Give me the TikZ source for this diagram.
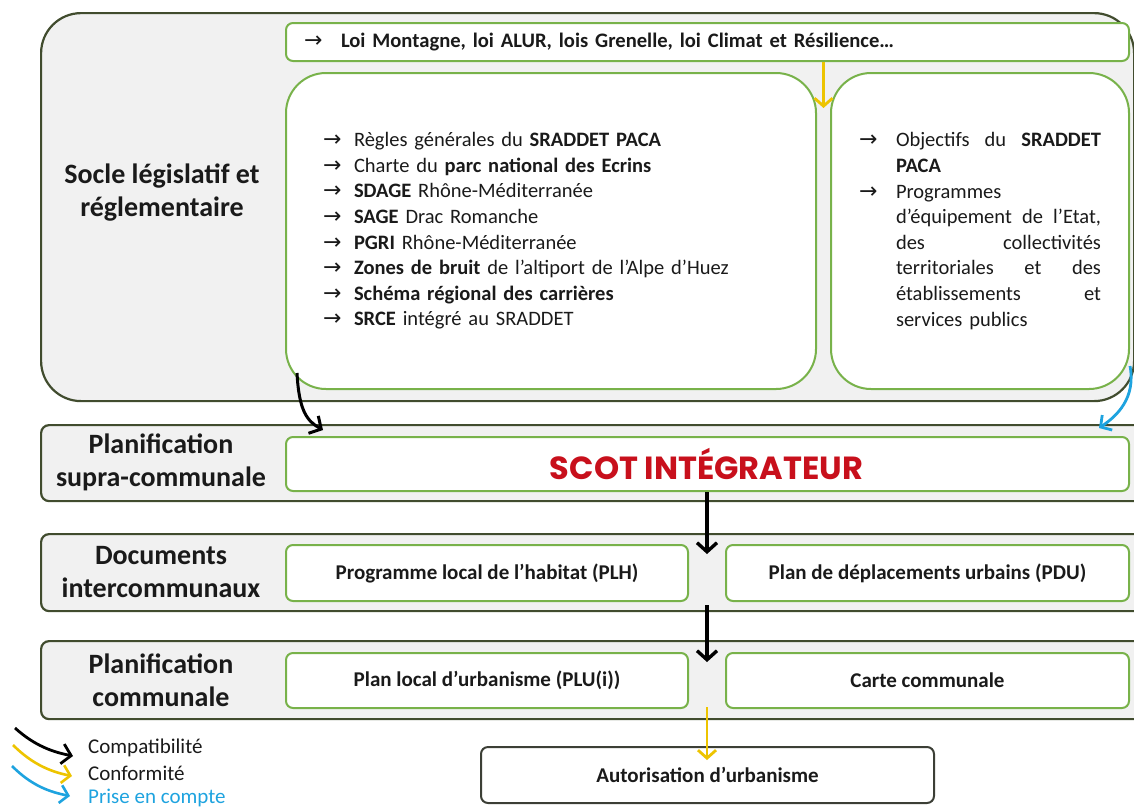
\documentclass[tikz,border=0pt]{standalone}
\usepackage{fontspec}
\setmainfont{Carlito}
\newfontfamily\scotfont{Poppins}
\newfontfamily\arrfont{DejaVu Sans}
\usetikzlibrary{arrows.meta,calc,positioning}
\definecolor{olive}{HTML}{414C2E}
\definecolor{leaf}{HTML}{78B24A}
\definecolor{panelgray}{HTML}{F1F1F1}
\definecolor{scotred}{HTML}{C8101C}
\definecolor{gold}{HTML}{EDC400}
\definecolor{sky}{HTML}{1EA3DF}
\definecolor{ink}{HTML}{1A1A1A}
\definecolor{frame}{HTML}{3C3F36}
\newcommand\arr[1][31pt]{\makebox[#1][l]{\arrfont\mdseries\fontsize{22}{20}\selectfont →}}
\newcommand\jline[1]{{\spaceskip=0pt\xspaceskip=0pt\makebox[205pt][s]{#1}}}
\tikzset{
  panel/.style={draw=olive,line width=2.2pt,fill=panelgray,rounded corners=8pt,
                anchor=north west,inner sep=0pt},
  inbox/.style={draw=leaf,line width=2pt,fill=white,rounded corners=7pt,
                anchor=north west,inner sep=0pt,text=ink},
  bigbox/.style={inbox,rounded corners=40pt,font={\fontsize{20.5}{25.6}\selectfont},align=left},
  rowlabel/.style={align=center,text=ink,font={\fontsize{28}{33}\selectfont\bfseries}},
  doc/.style={font={\fontsize{21}{24}\selectfont\bfseries}},
  legend/.style={anchor=west,inner sep=0pt,font={\fontsize{21}{24}\selectfont},text=ink},
  compat/.style={-{Straight Barb[length=9pt,width=20pt]},line width=3.4pt,draw=black},
  conform/.style={-{Straight Barb[length=8pt,width=18pt]},line width=2.8pt,draw=gold},
  prise/.style={-{Straight Barb[length=8pt,width=18pt]},line width=2.8pt,draw=sky}
}
\begin{document}
\begin{tikzpicture}[x=1pt,y=-1pt]
  \clip (0,0) rectangle (1134,807);
  % bandeaux
  \node[panel,rounded corners=40pt,minimum width=1093,minimum height=388] (socle) at (40,12) {};
  \node[panel,minimum width=1110,minimum height=76] (supra) at (40,424) {};
  \node[panel,minimum width=1110,minimum height=77] (inter) at (40,533) {};
  \node[panel,minimum width=1110,minimum height=78] (commun) at (40,640) {};
  \node[rowlabel] (lsocle) at (162,193) {Socle législatif et\\réglementaire};
  \node[rowlabel] (lsupra) at (161,462) {Planification\\supra-communale};
  \node[rowlabel] (linter) at (161,572) {Documents\\intercommunaux};
  \node[rowlabel] (lcommun) at (161,680) {Planification\\communale};

  % socle
  \node[inbox,minimum width=843,minimum height=38,text width=807,inner xsep=18pt,align=left,
        font={\fontsize{20.6}{22}\selectfont\bfseries}] (lois) at (285,22)
    {\arr[37pt]Loi Montagne, loi ALUR, lois Grenelle, loi Climat et Résilience…};
  \node[bigbox,minimum width=530,minimum height=316,text width=456,inner xsep=37pt] (lbox) at (285,72)
    {\arr Règles générales du \textbf{SRADDET PACA}\\
     \arr Charte du \textbf{parc national des Ecrins}\\
     \arr\textbf{SDAGE} Rhône-Méditerranée\\
     \arr\textbf{SAGE} Drac Romanche\\
     \arr\textbf{PGRI} Rhône-Méditerranée\\
     \arr\textbf{Zones de bruit} de l’altiport de l’Alpe d’Huez\\
     \arr\textbf{Schéma régional des carrières}\\
     \arr\textbf{SRCE} intégré au SRADDET};
  \node[bigbox,minimum width=298,minimum height=316,text width=242,inner xsep=28pt] (rbox) at (830,72)
    {\arr[37pt]\jline{Objectifs du \textbf{SRADDET}}\\
     \hspace*{37pt}\textbf{PACA}\\
     \arr[37pt]Programmes\\
     \hspace*{37pt}\jline{d’équipement de l’Etat,}\\
     \hspace*{37pt}\jline{des collectivités}\\
     \hspace*{37pt}\jline{territoriales et des}\\
     \hspace*{37pt}\jline{établissements et}\\
     \hspace*{37pt}services publics};

  % documents
  \node[inbox,minimum width=843,minimum height=54] (scot) at (285,436)
    {\hspace*{-2pt}{\scotfont\bfseries\fontsize{32}{34}\selectfont\color{scotred}SCOT INTÉGRATEUR}};
  \node[inbox,doc,minimum width=402,minimum height=56] (plh) at (285,544) {Programme local de l’habitat (PLH)};
  \node[inbox,doc,minimum width=403,minimum height=56] (pdu) at (725,544) {Plan de déplacements urbains (PDU)};
  \node[inbox,doc,minimum width=402,minimum height=55] (plu) at (285,652) {Plan local d’urbanisme (PLU(i))};
  \node[inbox,doc,minimum width=403,minimum height=55] (carte) at (725,652) {Carte communale};
  \node[inbox,doc,draw=frame,minimum width=453,minimum height=56] (aut) at (480,746) {Autorisation d’urbanisme};

  % liens
  \coordinate (gap) at ($(lbox.north east)!.5!(rbox.north west)$);
  \coordinate (mid3) at ($(plh.east)!.5!(pdu.west)$);
  \coordinate (mid4) at ($(plu.east)!.5!(carte.west)$);
  \draw[conform] (lois.south -| gap) -- ($(gap)+(0,36)$);
  \draw[compat,line width=3pt] ($(lbox.south west)+(12,-17)$) .. controls +(2,38) and +(-16,-9) .. ($(scot.north west)+(38,-6)$);
  \draw[prise] ($(rbox.south east)+(0,-24)$) .. controls +(6,32) and +(18,-12) .. ($(scot.north east)+(-31,-8)$);
  \draw[compat] (scot.south -| mid3) -- ($(mid3 |- plh.north)+(0,10)$);
  \draw[compat] ($(mid3 |- plh.south)+(0,3)$) -- ($(mid4 |- plu.north)+(0,10)$);
  \draw[conform] ($(mid4 |- plu.south)+(0,-2)$) -- ($(aut.north -| mid4)+(0,14)$);

  % legende
  \node[legend] (lgcompat) at (88,748) {Compatibilité};
  \node[legend] (lgconform) at (88,773) {Conformité};
  \node[legend,text=sky] (lgprise) at (88,798) {Prise en compte};
  \draw[compat,line width=2.8pt] ($(lgcompat.west)+(-73,-20)$) .. controls +(20,18) and +(-20,-4) .. ($(lgcompat.west)+(-15,8)$);
  \draw[conform,line width=2.6pt] ($(lgconform.west)+(-75,-28)$) .. controls +(20,20) and +(-20,-4) .. ($(lgconform.west)+(-16,3)$);
  \draw[prise,line width=2.6pt] ($(lgprise.west)+(-76,-32)$) .. controls +(20,20) and +(-20,-4) .. ($(lgprise.west)+(-18,-2)$);
\end{tikzpicture}
\end{document}
